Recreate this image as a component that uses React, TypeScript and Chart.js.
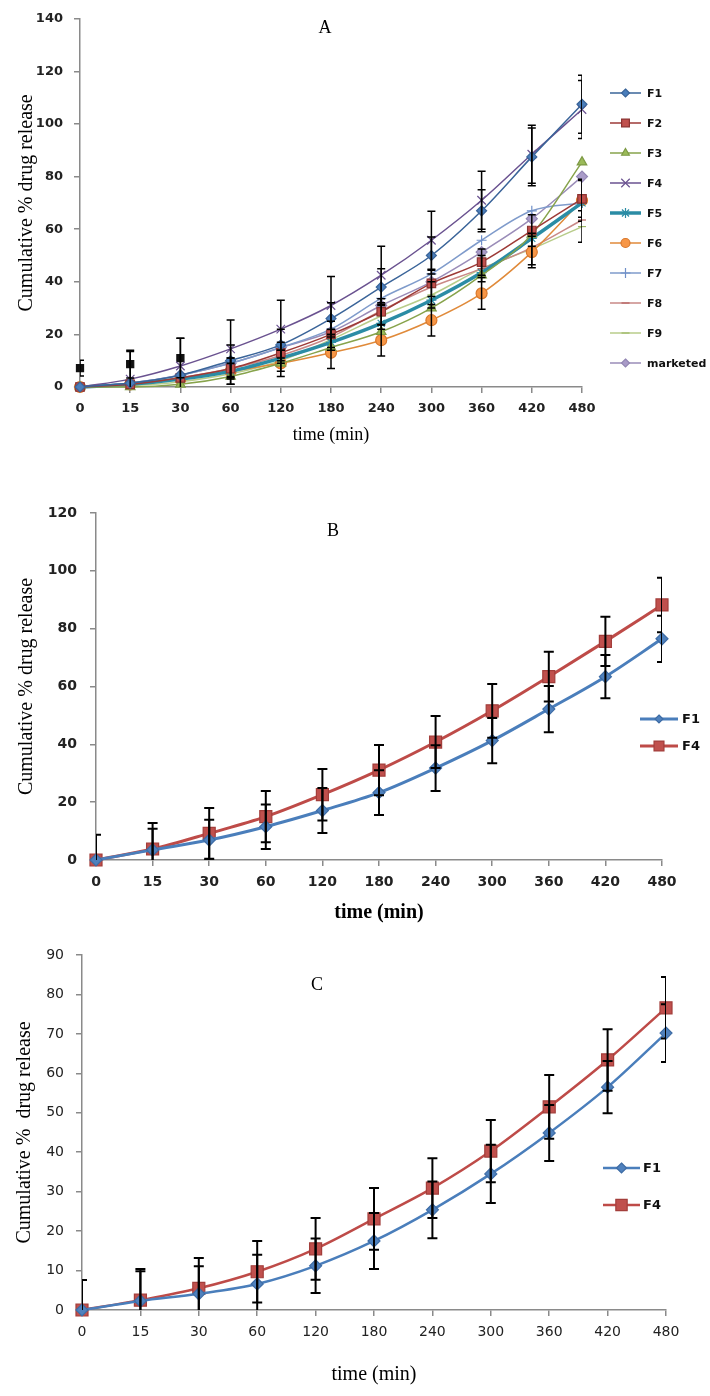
import React, { useEffect, useRef } from 'react';
import { Chart, registerables } from 'chart.js';
Chart.register(...registerables);

// ---------- shared categories ----------
const timeLabels = ['0', '15', '30', '60', '120', '180', '240', '300', '360', '420', '480'];

// ---------- Panel A values ----------
const aF1 = [0, 1.5, 4.5, 10, 16, 26, 38, 50, 67, 87.5, 107.5];
const aF2 = [0, 1, 3.5, 7, 13, 20, 28.6, 39.4, 47.5, 59.5, 71.5];
const aF3 = [0, 0, 1, 4, 9, 15, 21, 30, 42.5, 58, 85.5];
const aF4 = [0, 3, 8, 14.5, 22, 31, 42.5, 55.8, 71, 88.5, 105.5];
const aF5 = [0, 1, 3, 6, 11, 17, 24.2, 33, 43.5, 56.5, 70];
const aF6 = [0, 1, 3, 6, 9, 13, 17.8, 25.4, 35.6, 51.3, 71];
const aF7 = [0, 1.5, 4.5, 9, 15, 22, 33.7, 43, 55.8, 67, 70];
const aF8 = [0, 1, 3.5, 7, 12, 19, 29, 38, 45, 53, 63.5];
const aF9 = [0, 0.5, 2, 5, 10, 18, 27, 35, 45, 52.5, 61];
const aMarketed = [0, 1.5, 4.5, 9, 15, 21, 31, 40, 51.3, 64, 80];
const aExtra = [7.2, 8.7, 11, null, null, null, null, null, null, null, null];

const aF1Sd = [0, 0, 0, 6, 6, 6, 7, 7, 8, 11, 11];
const aF2Sd = [0, 0, 0, 4, 4, 5, 5, 5, 5, 6, 7];
const aF4Sd = [0, 10.5, 10.5, 11, 11, 11, 11, 11, 11, 11, 11];
const aF6Sd = [0, 0, 0, 5, 5, 6, 6, 6, 6, 6, 8];
const aF9Sd = [0, 0, 0, 4, 4, 4, 5, 5, 5, 6, 6];
const aExtraSd = [3, 5.3, 7.5, 0, 0, 0, 0, 0, 0, 0, 0];

// ---------- Panel B values ----------
const bF1 = [0, 3.5, 6.9, 11.5, 17.1, 23.3, 31.8, 41.3, 52.2, 63.4, 76.5];
const bF4 = [0, 3.8, 9.2, 15, 22.6, 31.1, 40.8, 51.6, 63.4, 75.6, 88.2];
const bF1Sd = [0, 7.3, 7, 7.7, 7.8, 7.7, 7.9, 7.8, 8, 7.5, 8];
const bF4Sd = [8.7, 9, 8.8, 8.9, 8.9, 8.7, 9, 9.3, 8.6, 8.5, 9.4];

// ---------- Panel C values ----------
const cF1 = [0, 2.3, 4.1, 6.6, 11.2, 17.5, 25.4, 34.5, 44.9, 56.5, 70.2];
const cF4 = [0, 2.5, 5.5, 9.7, 15.5, 23.1, 30.9, 40.3, 51.5, 63.4, 76.6];
const cF1Sd = [0, 7.5, 7, 7.4, 6.9, 7.1, 7.2, 7.4, 7.1, 6.6, 7.3];
const cF4Sd = [7.6, 7.9, 7.7, 7.8, 7.8, 7.8, 7.6, 7.9, 8.1, 7.8, 7.8];

type Series = {
  label: string;
  data: (number | null)[];
  sd?: number[];
  line: string;
  fill: string;
  edge: string;
  style: string;
  r: number;
  lr: number;
  w: number;
  legend: boolean;
  showLine: boolean;
};

type Spec = {
  top: number;
  H: number;
  areaTop: number;
  areaBottom: number;
  areaLeft: number;
  areaRight: number;
  yMax: number;
  yStep: number;
  letter: string;
  letterX: number;
  letterY: number;
  yTitle: string;
  xTitle: string;
  tickFont: any;
  xTitleFont: any;
  yTitleFont: any;
  yTitlePad: number;
  xTitlePad: number;
  xTickPad: number;
  yTickPad: number;
  legend: { x0: number; x1: number; tx: number; ys: number[]; font: string };
  errW: number;
  cap: number;
  series: Series[];
};

function marker(ctx: CanvasRenderingContext2D, style: string, x: number, y: number, r: number, fill: string, edge: string, bw: number) {
  ctx.save();
  ctx.fillStyle = fill;
  ctx.strokeStyle = edge;
  ctx.lineWidth = bw;
  ctx.beginPath();
  const s = r * Math.SQRT1_2;
  let doFill = true;
  switch (style) {
    case 'circle':
      ctx.arc(x, y, r, 0, Math.PI * 2);
      break;
    case 'rect':
      ctx.rect(x - s, y - s, 2 * s, 2 * s);
      break;
    case 'rectRot':
      ctx.moveTo(x, y - r);
      ctx.lineTo(x + r, y);
      ctx.lineTo(x, y + r);
      ctx.lineTo(x - r, y);
      ctx.closePath();
      break;
    case 'triangle': {
      let a = 0;
      ctx.moveTo(x + Math.sin(a) * r, y - Math.cos(a) * r);
      a += (2 * Math.PI) / 3;
      ctx.lineTo(x + Math.sin(a) * r, y - Math.cos(a) * r);
      a += (2 * Math.PI) / 3;
      ctx.lineTo(x + Math.sin(a) * r, y - Math.cos(a) * r);
      ctx.closePath();
      break;
    }
    case 'cross':
      ctx.moveTo(x, y - r); ctx.lineTo(x, y + r);
      ctx.moveTo(x - r, y); ctx.lineTo(x + r, y);
      doFill = false;
      break;
    case 'crossRot':
      ctx.moveTo(x - s, y - s); ctx.lineTo(x + s, y + s);
      ctx.moveTo(x + s, y - s); ctx.lineTo(x - s, y + s);
      doFill = false;
      break;
    case 'star':
      ctx.moveTo(x, y - r); ctx.lineTo(x, y + r);
      ctx.moveTo(x - r, y); ctx.lineTo(x + r, y);
      ctx.moveTo(x - s, y - s); ctx.lineTo(x + s, y + s);
      ctx.moveTo(x + s, y - s); ctx.lineTo(x - s, y + s);
      doFill = false;
      break;
    case 'line':
      ctx.moveTo(x - r, y); ctx.lineTo(x + r, y);
      doFill = false;
      break;
  }
  if (doFill) ctx.fill();
  ctx.stroke();
  ctx.restore();
}

const specA: Spec = {
  top: 0, H: 460, areaTop: 18, areaBottom: 387, areaLeft: 80, areaRight: 582,
  yMax: 140, yStep: 20, letter: 'A', letterX: 325, letterY: 28,
  yTitle: 'Cumulative % drug release', xTitle: 'time (min)',
  tickFont: { family: '"DejaVu Sans", sans-serif', size: 13, weight: 'bold' },
  xTitleFont: { family: '"Liberation Serif", serif', size: 18 },
  yTitleFont: { family: '"Liberation Serif", serif', size: 20 },
  yTitlePad: 15, xTitlePad: 14, xTickPad: 8, yTickPad: 11,
  legend: { x0: 610, x1: 641, tx: 647, ys: [93, 123, 153, 183, 213, 243, 273, 303, 333, 363], font: 'bold 11px "DejaVu Sans", sans-serif' },
  errW: 1.5, cap: 4,
  series: [
    { label: 'F1', data: aF1, sd: aF1Sd, line: '#3A6499', fill: '#4A7EBB', edge: '#3A6499', style: 'rectRot', r: 5, lr: 4, w: 1.5, legend: true, showLine: true },
    { label: 'F2', data: aF2, sd: aF2Sd, line: '#9D3A37', fill: '#C0504D', edge: '#8C3331', style: 'rect', r: 6, lr: 5.5, w: 1.5, legend: true, showLine: true },
    { label: 'F3', data: aF3, line: '#87A34B', fill: '#9BBB59', edge: '#7E9A45', style: 'triangle', r: 5.5, lr: 4.5, w: 1.5, legend: true, showLine: true },
    { label: 'F4', data: aF4, sd: aF4Sd, line: '#6A5290', fill: '#8064A2', edge: '#6A5290', style: 'crossRot', r: 6, lr: 6, w: 1.5, legend: true, showLine: true },
    { label: 'F5', data: aF5, line: '#2B8CA5', fill: '#4BACC6', edge: '#2B8CA5', style: 'star', r: 5, lr: 5, w: 3.5, legend: true, showLine: true },
    { label: 'F6', data: aF6, sd: aF6Sd, line: '#E08A3A', fill: '#F79646', edge: '#D9782C', style: 'circle', r: 5.5, lr: 4.5, w: 1.5, legend: true, showLine: true },
    { label: 'F7', data: aF7, line: '#7F9BCB', fill: '#7F9BCB', edge: '#6F8FC8', style: 'cross', r: 5, lr: 5, w: 1.5, legend: true, showLine: true },
    { label: 'F8', data: aF8, line: '#C98886', fill: '#C98886', edge: '#B5605E', style: 'line', r: 4, lr: 4, w: 1.5, legend: true, showLine: true },
    { label: 'F9', data: aF9, sd: aF9Sd, line: '#B8CC8A', fill: '#B8CC8A', edge: '#9DB866', style: 'line', r: 4, lr: 4, w: 1.5, legend: true, showLine: true },
    { label: 'marketed', data: aMarketed, line: '#9A8CB8', fill: '#A99BC8', edge: '#9387B3', style: 'rectRot', r: 5.5, lr: 4, w: 1.5, legend: true, showLine: true },
    { label: '', data: aExtra, sd: aExtraSd, line: '#111111', fill: '#111111', edge: '#111111', style: 'rect', r: 5, lr: 5, w: 0, legend: false, showLine: false },
  ],
};

const specB: Spec = {
  top: 460, H: 465, areaTop: 53, areaBottom: 400, areaLeft: 96, areaRight: 662,
  yMax: 120, yStep: 20, letter: 'B', letterX: 333, letterY: 71,
  yTitle: 'Cumulative % drug release', xTitle: 'time (min)',
  tickFont: { family: '"DejaVu Sans", sans-serif', size: 14, weight: 'bold' },
  xTitleFont: { family: '"Liberation Serif", serif', size: 20, weight: 'bold' },
  yTitleFont: { family: '"Liberation Serif", serif', size: 20 },
  yTitlePad: 15, xTitlePad: 0, xTickPad: 8, yTickPad: 13,
  legend: { x0: 640, x1: 678, tx: 682, ys: [259, 286], font: 'bold 13px "DejaVu Sans", sans-serif' },
  errW: 2, cap: 5,
  series: [
    { label: 'F1', data: bF1, sd: bF1Sd, line: '#4A7EBB', fill: '#4F81BD', edge: '#3E6CA5', style: 'rectRot', r: 6, lr: 4, w: 3, legend: true, showLine: true },
    { label: 'F4', data: bF4, sd: bF4Sd, line: '#BE4B48', fill: '#C0504D', edge: '#A33E3B', style: 'rect', r: 8.5, lr: 7, w: 3, legend: true, showLine: true },
  ],
};

const specC: Spec = {
  top: 925, H: 471, areaTop: 30, areaBottom: 385, areaLeft: 82, areaRight: 666,
  yMax: 90, yStep: 10, letter: 'C', letterX: 317, letterY: 60,
  yTitle: 'Cumulative %  drug release', xTitle: 'time (min)',
  tickFont: { family: '"DejaVu Sans", sans-serif', size: 14, weight: 'normal' },
  xTitleFont: { family: '"Liberation Serif", serif', size: 20 },
  yTitleFont: { family: '"Liberation Serif", serif', size: 20 },
  yTitlePad: 13, xTitlePad: 9, xTickPad: 8, yTickPad: 12,
  legend: { x0: 603, x1: 640, tx: 643, ys: [243, 280], font: 'bold 13px "DejaVu Sans", sans-serif' },
  errW: 2, cap: 5,
  series: [
    { label: 'F1', data: cF1, sd: cF1Sd, line: '#4A7EBB', fill: '#4F81BD', edge: '#3E6CA5', style: 'rectRot', r: 6, lr: 5, w: 2.5, legend: true, showLine: true },
    { label: 'F4', data: cF4, sd: cF4Sd, line: '#BE4B48', fill: '#C0504D', edge: '#A33E3B', style: 'rect', r: 8.5, lr: 8, w: 2.5, legend: true, showLine: true },
  ],
};

function Panel({ spec }: { spec: Spec }) {
  const ref = useRef<HTMLCanvasElement | null>(null);
  useEffect(() => {
    if (!ref.current) return;
    const sp = spec;
    const extras = {
      id: 'extras' + sp.letter,
      afterDatasetsDraw(chart: any) {
        const ctx: CanvasRenderingContext2D = chart.ctx;
        const area = chart.chartArea;
        const yS = chart.scales.y;
        ctx.save();
        ctx.beginPath();
        ctx.rect(area.left, area.top - 1, area.right - area.left, area.bottom - area.top + 1);
        ctx.clip();
        ctx.strokeStyle = '#000';
        ctx.lineWidth = sp.errW;
        sp.series.forEach((s, i) => {
          if (!s.sd) return;
          const meta = chart.getDatasetMeta(i);
          meta.data.forEach((pt: any, j: number) => {
            const v = s.data[j];
            const e = s.sd![j];
            if (v == null || !e) return;
            const x = pt.x;
            const y1 = yS.getPixelForValue(v + e);
            const y2 = yS.getPixelForValue(v - e);
            ctx.beginPath();
            ctx.moveTo(x, y1); ctx.lineTo(x, y2);
            ctx.moveTo(x - sp.cap, y1); ctx.lineTo(x + sp.cap, y1);
            ctx.moveTo(x - sp.cap, y2); ctx.lineTo(x + sp.cap, y2);
            ctx.stroke();
          });
        });
        ctx.restore();
      },
      afterDraw(chart: any) {
        const ctx: CanvasRenderingContext2D = chart.ctx;
        ctx.save();
        ctx.fillStyle = '#000';
        ctx.font = '18px "Liberation Serif", serif';
        ctx.textAlign = 'center';
        ctx.textBaseline = 'middle';
        ctx.fillText(sp.letter, sp.letterX, sp.letterY);
        const L = sp.legend;
        let k = 0;
        sp.series.forEach((s) => {
          if (!s.legend) return;
          const y = L.ys[k++];
          ctx.save();
          ctx.strokeStyle = s.line;
          ctx.lineWidth = s.w;
          ctx.beginPath();
          ctx.moveTo(L.x0, y);
          ctx.lineTo(L.x1, y);
          ctx.stroke();
          ctx.restore();
          marker(ctx, s.style, (L.x0 + L.x1) / 2, y, s.lr, s.fill, s.edge, 1.2);
          ctx.fillStyle = '#111';
          ctx.font = L.font;
          ctx.textAlign = 'left';
          ctx.textBaseline = 'middle';
          ctx.fillText(s.label, L.tx, y + 1);
        });
        ctx.restore();
      },
    };

    const chart = new Chart(ref.current, {
      type: 'line',
      data: {
        labels: timeLabels,
        datasets: sp.series.map((s) => ({
          label: s.label,
          data: s.data,
          borderColor: s.line,
          backgroundColor: s.fill,
          borderWidth: s.w,
          showLine: s.showLine,
          pointStyle: s.style as any,
          pointRadius: s.r,
          pointBackgroundColor: s.fill,
          pointBorderColor: s.edge,
          pointBorderWidth: 1.2,
          cubicInterpolationMode: 'monotone' as const,
          clip: false as any,
          spanGaps: false,
        })),
      },
      options: {
        animation: false,
        responsive: false,
        maintainAspectRatio: false,
        layout: { padding: { top: sp.areaTop, right: 710 - sp.areaRight, bottom: 0, left: 0 } },
        plugins: { legend: { display: false }, tooltip: { enabled: false } },
        scales: {
          x: {
            type: 'category',
            offset: false,
            grid: { offset: false, drawOnChartArea: false, drawTicks: true, tickLength: 6, color: '#8a8a8a', lineWidth: 1.5 },
            border: { color: '#8a8a8a', width: 1.5 },
            ticks: { font: sp.tickFont, color: '#222', padding: sp.xTickPad, autoSkip: false, maxRotation: 0 },
            title: { display: true, text: sp.xTitle, font: sp.xTitleFont, color: '#000', padding: { top: 0, bottom: sp.xTitlePad } },
            afterFit: (s: any) => { s.height = sp.H - sp.areaBottom; },
          },
          y: {
            type: 'linear',
            min: 0,
            max: sp.yMax,
            grid: { drawOnChartArea: false, drawTicks: true, tickLength: 6, color: '#8a8a8a', lineWidth: 1.5 },
            border: { color: '#8a8a8a', width: 1.5 },
            ticks: { stepSize: sp.yStep, font: sp.tickFont, color: '#222', padding: sp.yTickPad },
            title: { display: true, text: sp.yTitle, font: sp.yTitleFont, color: '#000', padding: { top: sp.yTitlePad, bottom: 0 } },
            afterFit: (s: any) => { s.width = sp.areaLeft; },
          },
        },
      },
      plugins: [extras],
    } as any);
    return () => chart.destroy();
  }, [spec]);
  return (
    <canvas
      ref={ref}
      width={710}
      height={spec.H}
      style={{ position: 'absolute', left: 0, top: spec.top, width: 710, height: spec.H, display: 'block' }}
    />
  );
}

export default function App() {
  return (
    <div style={{ position: 'absolute', left: 0, top: 0, width: 710, height: 1396, background: '#fff' }}>
      <Panel spec={specA} />
      <Panel spec={specB} />
      <Panel spec={specC} />
    </div>
  );
}
